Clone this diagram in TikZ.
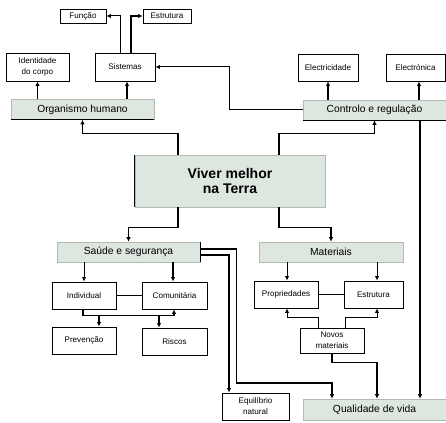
\documentclass[tikz,border=0pt]{standalone}
\usepackage{fontspec}
\setmainfont{Liberation Sans}
\usepackage{xcolor}
\usepackage{tikz}
\usetikzlibrary{arrows.meta,positioning,calc}
\definecolor{barfill}{RGB}{222,230,224}
\definecolor{barline}{RGB}{178,186,180}
\tikzset{
  box/.style    ={draw, line width=0.9pt, fill=white, align=center,
                  minimum width=#1, minimum height=27pt, inner sep=1pt,
                  font=\fontsize{8.1}{11}\selectfont},
  box/.default=64pt,
  bar/.style    ={draw=barline, line width=0.6pt, fill=barfill,
                  minimum width=143pt, minimum height=20pt, inner sep=1pt,
                  font=\fontsize{10.3}{12}\selectfont},
  hub/.style    ={draw=barline, line width=0.6pt, fill=barfill, align=center,
                  minimum width=190pt, minimum height=52pt,
                  font=\fontsize{14}{14.5}\selectfont\bfseries},
  arr/.style    ={-{Latex[length=4.5pt,width=4.5pt]}, line width=1pt},
  marr/.style   ={-{Latex[length=4.5pt,width=4.5pt]}, line width=1.4pt},
  tarr/.style   ={-{Latex[length=4.5pt,width=4.5pt]}, line width=1.9pt},
}
\begin{document}
\begin{tikzpicture}[x=1pt,y=-1pt]
  \useasboundingbox (0,0) rectangle (446,422);
  %% top row
  \node[box=46pt, minimum height=14pt] (funcao) at (83,16) {Função};
  \node[box=48pt, minimum height=14pt] (estrA) at (167,16) {Estrutura};
  \node[box=63pt, minimum height=28pt] (ident) at (37.5,67) {Identidade\\do corpo};
  \node[box=60pt, minimum height=28pt] (sist) at (125,67) {Sistemas};
  \node[box=60pt] (elec) at (328,67.5) {Electricidade};
  \node[box=59pt] (eltr) at (415.5,67.5) {Electrónica};
  %% bars
  \node[bar] (org) at (82.5,109.5) {Organismo humano};
  \node[bar] (ctrl) at (374.5,110) {Controlo e regulação};
  \node[hub] (viver) at (230,181) {Viver melhor\\na Terra};
  \node[bar] (saude) at (128.5,252) {Saúde e segurança};
  \node[bar, minimum width=144pt] (mat) at (331,252) {Materiais};
  \node[bar, minimum height=21pt] (qual) at (374.5,409.5) {Qualidade de vida};
  \draw[line width=1pt] (org.south west) -- (org.south east);
  \draw[line width=1pt] (ctrl.south west) -- (ctrl.south east);
  \draw[line width=1pt] (viver.north west) -- (viver.south west);
  \draw[line width=1.4pt] (saude.north east) -- (saude.south east);
  %% lower boxes
  \node[box] (indiv) at (84,295.5) {Individual};
  \node[box=65pt] (comun) at (174.5,295.5) {Comunitária};
  \node[box] (prev) at (84,340.5) {Prevenção};
  \node[box=65pt] (riscos) at (174.5,341.5) {Riscos};
  \node[box] (prop) at (286,294.5) {Propriedades};
  \node[box=59pt] (estrB) at (373.5,294.5) {Estrutura};
  \node[box, minimum height=25pt] (novos) at (332,340.5) {Novos\\materiais};
  \node[box=67pt] (equil) at (255.5,406.5) {Equilíbrio\\natural};
  %% connectors, upper half
  \draw[tarr] (org.north -| ident.south) -- (ident.south);
  \draw[tarr] ([xshift=2pt]org.north -| sist.south) -- ([xshift=2pt]sist.south);
  \draw[arr] ([xshift=-5pt]sist.north) |- (funcao.east);
  \draw[tarr] ([xshift=6pt]sist.north) |- (estrA.west);
  \draw[arr] (ctrl.west) -- ++(-73,0) |- (sist.east);
  \draw[tarr] (ctrl.north -| elec.south) -- (elec.south);
  \draw[tarr] ([xshift=3.5pt]ctrl.north -| eltr.south) -- ([xshift=3.5pt]eltr.south);
  \draw[marr] ([xshift=-52pt]viver.north) -- ++(0,-21) -| (org.south);
  \draw[marr] ([xshift=49pt]viver.north) -- ++(0,-21) -| (ctrl.south);
  \draw[marr] ([xshift=-52pt]viver.south) -- ++(0,20) -| (saude.north);
  \draw[marr] ([xshift=49pt]viver.south) -- ++(0,20) -| (mat.north);
  %% connectors, lower half
  \draw[arr] (saude.south -| indiv.north) -- (indiv.north);
  \draw[tarr] ([xshift=-1.5pt]saude.south -| comun.north) -- ([xshift=-1.5pt]comun.north);
  \draw[line width=1pt] (indiv) -- (comun);
  \draw[tarr] ([xshift=-1pt]indiv.south) -- ++(0,6) coordinate (bus) -| ([xshift=-0.5pt]comun.south);
  \draw[tarr] ([xshift=15pt]prev.north |- bus) -- ([xshift=15pt]prev.north);
  \draw[tarr] ([xshift=-15.5pt]riscos.north |- bus) -- ([xshift=-15.5pt]riscos.north);
  \draw[arr] ([xshift=1pt]mat.south -| prop.north) -- ([xshift=1pt]prop.north);
  \draw[arr] ([xshift=3.5pt]mat.south -| estrB.north) -- ([xshift=3.5pt]estrB.north);
  \draw[line width=1pt] (prop) -- (estrB);
  \draw[arr] ([xshift=-14pt]novos.north) -- ++(0,-10) -| ([xshift=1pt]prop.south);
  \draw[arr] ([xshift=13pt]novos.north) -- ++(0,-10) -| ([xshift=3.5pt]estrB.south);
  \draw[tarr] (novos.south) -- ++(0,9) -| ([xshift=2.5pt]qual.north);
  \draw[marr] ([yshift=-3pt]saude.east) -| ([xshift=-26.5pt]equil.north);
  \draw[marr] ([yshift=3pt]saude.east) -- ++(36,0) |- (332,383) -- ([xshift=-42.5pt]qual.north);
  \draw[tarr] ([xshift=45.5pt]ctrl.south) -- ([xshift=45.5pt]qual.north);
\end{tikzpicture}
\end{document}
